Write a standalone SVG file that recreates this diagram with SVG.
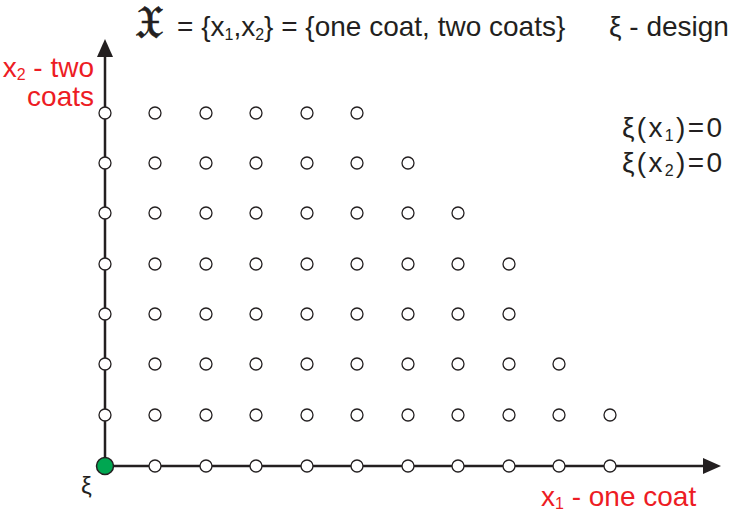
<svg xmlns="http://www.w3.org/2000/svg" width="734" height="512" viewBox="0 0 734 512">
<defs>
<style>
.t{font-family:"Liberation Sans",Arial,sans-serif;font-size:28px;fill:#231f20}
.r{fill:#ed1c24}
.s{font-size:16px}
.p{fill:#fff;stroke:#231f20;stroke-width:1.3}
.ax{stroke:#231f20;stroke-width:2.5;fill:none}
</style>
<circle id="c" r="6"/>
</defs>
<g id="connectors">
<line class="ax" x1="105" y1="466" x2="105" y2="50"/>
<path d="M105,39 L97,57 L113,57 z" fill="#231f20"/>
<line class="ax" x1="105" y1="466" x2="708" y2="466"/>
<path d="M721,466 L703,458 L703,474 z" fill="#231f20"/>
</g>
<g id="points" class="p">
<use href="#c" x="155" y="466"/><use href="#c" x="206" y="466"/><use href="#c" x="256" y="466"/><use href="#c" x="307" y="466"/><use href="#c" x="357" y="466"/><use href="#c" x="408" y="466"/><use href="#c" x="458" y="466"/><use href="#c" x="509" y="466"/><use href="#c" x="559" y="466"/><use href="#c" x="610" y="466"/>
<use href="#c" x="105" y="415"/><use href="#c" x="155" y="415"/><use href="#c" x="206" y="415"/><use href="#c" x="256" y="415"/><use href="#c" x="307" y="415"/><use href="#c" x="357" y="415"/><use href="#c" x="408" y="415"/><use href="#c" x="458" y="415"/><use href="#c" x="509" y="415"/><use href="#c" x="559" y="415"/><use href="#c" x="610" y="415"/>
<use href="#c" x="105" y="364"/><use href="#c" x="155" y="364"/><use href="#c" x="206" y="364"/><use href="#c" x="256" y="364"/><use href="#c" x="307" y="364"/><use href="#c" x="357" y="364"/><use href="#c" x="408" y="364"/><use href="#c" x="458" y="364"/><use href="#c" x="509" y="364"/><use href="#c" x="559" y="364"/>
<use href="#c" x="105" y="314"/><use href="#c" x="155" y="314"/><use href="#c" x="206" y="314"/><use href="#c" x="256" y="314"/><use href="#c" x="307" y="314"/><use href="#c" x="357" y="314"/><use href="#c" x="408" y="314"/><use href="#c" x="458" y="314"/><use href="#c" x="509" y="314"/>
<use href="#c" x="105" y="264"/><use href="#c" x="155" y="264"/><use href="#c" x="206" y="264"/><use href="#c" x="256" y="264"/><use href="#c" x="307" y="264"/><use href="#c" x="357" y="264"/><use href="#c" x="408" y="264"/><use href="#c" x="458" y="264"/><use href="#c" x="509" y="264"/>
<use href="#c" x="105" y="213"/><use href="#c" x="155" y="213"/><use href="#c" x="206" y="213"/><use href="#c" x="256" y="213"/><use href="#c" x="307" y="213"/><use href="#c" x="357" y="213"/><use href="#c" x="408" y="213"/><use href="#c" x="458" y="213"/>
<use href="#c" x="105" y="163"/><use href="#c" x="155" y="163"/><use href="#c" x="206" y="163"/><use href="#c" x="256" y="163"/><use href="#c" x="307" y="163"/><use href="#c" x="357" y="163"/><use href="#c" x="408" y="163"/>
<use href="#c" x="105" y="113"/><use href="#c" x="155" y="113"/><use href="#c" x="206" y="113"/><use href="#c" x="256" y="113"/><use href="#c" x="307" y="113"/><use href="#c" x="357" y="113"/>
</g>
<g id="origin">
<circle cx="105" cy="466" r="8.5" fill="#00a651" stroke="#231f20" stroke-width="1.5"/>
<text class="t" x="81" y="494" style="font-size:24px">ξ</text>
</g>
<g id="header">
<text x="135" y="38" style="font-family:'DejaVu Serif',serif;font-size:46px;fill:#231f20;stroke:#231f20;stroke-width:0.6">𝔛</text>
<text class="t" x="177" y="36">= {x<tspan class="s" dy="4">1</tspan><tspan dy="-4">,x</tspan><tspan class="s" dy="4">2</tspan><tspan dy="-4">} = {one coat, two coats}</tspan></text>
<text class="t" x="609" y="36">ξ - design</text>
</g>
<g id="ylabel">
<text class="t r" x="94" y="77" text-anchor="end">x<tspan class="s" dy="3">2</tspan><tspan dy="-3"> - two</tspan></text>
<text class="t r" x="94" y="106" text-anchor="end">coats</text>
</g>
<g id="xlabel">
<text class="t r" x="541" y="506">x<tspan class="s" dy="3">1</tspan><tspan dy="-3"> - one coat</tspan></text>
</g>
<g id="conditions">
<text class="t" x="622" y="137" textLength="100" lengthAdjust="spacing">ξ(x<tspan class="s" dy="4">1</tspan><tspan dy="-4">)=0</tspan></text>
<text class="t" x="622" y="172" textLength="100" lengthAdjust="spacing">ξ(x<tspan class="s" dy="4">2</tspan><tspan dy="-4">)=0</tspan></text>
</g>
</svg>
